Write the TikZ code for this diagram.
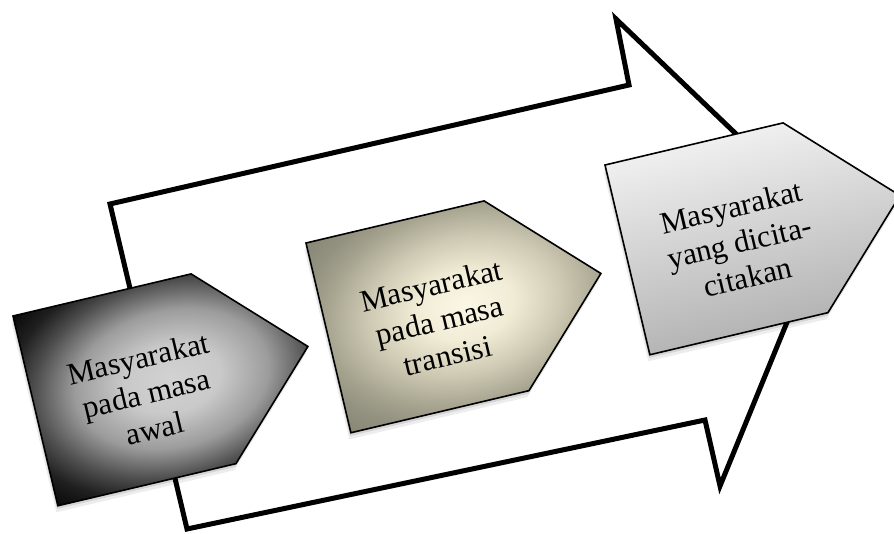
\documentclass[tikz,border=0pt]{standalone}
\usepackage{fontspec}
\setmainfont{Liberation Serif}
\definecolor{pAa}{HTML}{D2D2D2}
\definecolor{pAb}{HTML}{C9C9C9}
\definecolor{pAc}{HTML}{9C9C9C}
\definecolor{pAd}{HTML}{4D4D4D}
\definecolor{pAe}{HTML}{202020}
\definecolor{pAf}{HTML}{050505}
\definecolor{pBa}{HTML}{FBF7E6}
\definecolor{pBb}{HTML}{F1ECD6}
\definecolor{pBc}{HTML}{CDC9B3}
\definecolor{pBd}{HTML}{A7A490}
\definecolor{pBe}{HTML}{939180}
\definecolor{pBf}{HTML}{878571}
\definecolor{pCtop}{HTML}{EFEFEF}
\definecolor{pCbot}{HTML}{B5B5B5}
% the path's bounding box spans 25bp..75bp (radius 25bp) of the shading
\pgfdeclareradialshading{pAsh}{\pgfpoint{0bp}{0bp}}{color(0bp)=(pAa); color(8.75bp)=(pAb); color(17.5bp)=(pAc); color(25bp)=(pAd); color(30bp)=(pAe); color(36.25bp)=(pAf); color(50bp)=(pAf)}
\pgfdeclareradialshading{pBsh}{\pgfpoint{0bp}{0bp}}{color(0bp)=(pBa); color(8.75bp)=(pBb); color(17.5bp)=(pBc); color(25bp)=(pBd); color(30bp)=(pBe); color(36.25bp)=(pBf); color(50bp)=(pBf)}
\pgfdeclareverticalshading{pCsh}{100bp}{color(0bp)=(pCbot); color(25bp)=(pCbot); color(75bp)=(pCtop); color(100bp)=(pCtop)}
\begin{document}
\begin{tikzpicture}[x=1pt,y=-1pt,
  pent/.style={insert path={(0,0) -- (183,0) -- (280,97.5) -- (183,195) -- (0,195) -- cycle}},
  pentline/.style={draw=black, line width=1.6pt, line join=miter},
  txt/.style={align=center, inner sep=0pt, text=black, font=\fontsize{31}{36}\selectfont},
  bigarrow/.style={draw=black, line width=5pt, line join=miter, miter limit=10},
  shadowA/.style={fill=black, opacity=0.07},
  shadowB/.style={fill=black, opacity=0.10}]
\useasboundingbox (0,0) rectangle (894,534);

% big arrow outline
\coordinate (a1) at (110,204);
\coordinate (a2) at (629,85);
\coordinate (a3) at (616,19);
\coordinate (a4) at (828,222);
\coordinate (a5) at (720,486);
\coordinate (a6) at (705,420);
\coordinate (a7) at (187,529);
\draw[bigarrow] (a1) -- (a2) -- (a3) -- (a4) -- (a5) -- (a6) -- (a7) -- cycle;

% pentagon 1
\begin{scope}[transform canvas={shift={(13,316)}, rotate=13.3}]
  \path[shadowA, shift={(-3,6)}, pent];
  \path[shadowB, shift={(-1.5,3)}, pent];
  \path[shading=pAsh, pent];
  \path[pentline, pent];
  \node[txt] (t1) at (112,106) {Masyarakat\\pada masa\\awal};
\end{scope}

% pentagon 2
\begin{scope}[transform canvas={shift={(306,243)}, rotate=13.3}]
  \path[shadowA, shift={(-3,6)}, pent];
  \path[shadowB, shift={(-1.5,3)}, pent];
  \path[shading=pBsh, pent];
  \path[pentline, pent];
  \node[txt] (t2) at (112,106) {Masyarakat\\pada masa\\transisi};
\end{scope}

% pentagon 3
\begin{scope}[transform canvas={shift={(605,165)}, rotate=13.3}]
  \path[shadowA, shift={(-3,6)}, pent];
  \path[shadowB, shift={(-1.5,3)}, pent];
  \path[shading=pCsh, pent];
  \path[pentline, pent];
  \node[txt] (t3) at (113,106) {Masyarakat\\yang dicita-\\citakan};
\end{scope}
\end{tikzpicture}
\end{document}
